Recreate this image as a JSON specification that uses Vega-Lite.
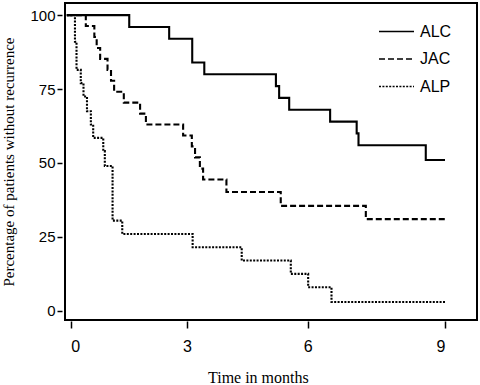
{
  "$schema": "https://vega.github.io/schema/vega-lite/v6.json",
  "width": 412,
  "height": 317,
  "autosize": "none",
  "padding": {"left": 65, "top": 3, "right": 3, "bottom": 65},
  "background": "white",
  "config": {
    "view": {"stroke": "black", "strokeWidth": 2},
    "axis": {"grid": false, "domain": false, "tickColor": "black", "tickWidth": 1.5, "labelColor": "black", "titleColor": "black", "titleFontWeight": "normal"}
  },
  "data": {
    "values": [
      {"series": "ALC", "t": -0.1, "v": 100},
      {"series": "ALC", "t": 1.51, "v": 96},
      {"series": "ALC", "t": 2.54, "v": 92},
      {"series": "ALC", "t": 3.13, "v": 84},
      {"series": "ALC", "t": 3.43, "v": 80},
      {"series": "ALC", "t": 5.21, "v": 76},
      {"series": "ALC", "t": 5.29, "v": 72},
      {"series": "ALC", "t": 5.54, "v": 68},
      {"series": "ALC", "t": 6.49, "v": 64},
      {"series": "ALC", "t": 7.07, "v": 60},
      {"series": "ALC", "t": 7.11, "v": 56},
      {"series": "ALC", "t": 8.58, "v": 51},
      {"series": "ALC", "t": 9, "v": 51},
      {"series": "JAC", "t": -0.1, "v": 100},
      {"series": "JAC", "t": 0.39, "v": 96.3},
      {"series": "JAC", "t": 0.61, "v": 92.6},
      {"series": "JAC", "t": 0.67, "v": 88.9},
      {"series": "JAC", "t": 0.76, "v": 85.2},
      {"series": "JAC", "t": 0.95, "v": 81.5},
      {"series": "JAC", "t": 1.04, "v": 77.8},
      {"series": "JAC", "t": 1.12, "v": 74.1},
      {"series": "JAC", "t": 1.37, "v": 70.4},
      {"series": "JAC", "t": 1.79, "v": 66.7},
      {"series": "JAC", "t": 1.94, "v": 63.0},
      {"series": "JAC", "t": 2.90, "v": 59.3},
      {"series": "JAC", "t": 3.12, "v": 55.6},
      {"series": "JAC", "t": 3.20, "v": 51.9},
      {"series": "JAC", "t": 3.32, "v": 48.1},
      {"series": "JAC", "t": 3.40, "v": 44.4},
      {"series": "JAC", "t": 3.98, "v": 40.2},
      {"series": "JAC", "t": 5.33, "v": 35.5},
      {"series": "JAC", "t": 7.27, "v": 31},
      {"series": "JAC", "t": 9, "v": 31},
      {"series": "ALP", "t": -0.1, "v": 100},
      {"series": "ALP", "t": 0.11, "v": 91},
      {"series": "ALP", "t": 0.15, "v": 81.5},
      {"series": "ALP", "t": 0.26, "v": 77},
      {"series": "ALP", "t": 0.33, "v": 72.5},
      {"series": "ALP", "t": 0.42, "v": 67.5},
      {"series": "ALP", "t": 0.52, "v": 63},
      {"series": "ALP", "t": 0.58, "v": 58.5},
      {"series": "ALP", "t": 0.84, "v": 54},
      {"series": "ALP", "t": 0.88, "v": 49},
      {"series": "ALP", "t": 1.08, "v": 30.5},
      {"series": "ALP", "t": 1.33, "v": 26},
      {"series": "ALP", "t": 3.14, "v": 21.5},
      {"series": "ALP", "t": 4.36, "v": 17},
      {"series": "ALP", "t": 5.58, "v": 12.5},
      {"series": "ALP", "t": 6.01, "v": 8},
      {"series": "ALP", "t": 6.52, "v": 3},
      {"series": "ALP", "t": 9, "v": 3}
    ]
  },
  "mark": {"type": "line", "interpolate": "step-after", "color": "black", "strokeWidth": 2.1, "strokeCap": "butt"},
  "encoding": {
    "x": {
      "field": "t", "type": "quantitative",
      "scale": {"domain": [0, 3, 6, 9], "range": [5.7, 122, 242.7, 380], "nice": false, "zero": false},
      "axis": {"values": [0, 3, 6, 9], "tickSize": 7, "offset": 1, "labelFont": "Liberation Sans", "labelFontSize": 16, "labelPadding": 10, "title": "Time in months", "titleFont": "Liberation Serif", "titleFontSize": 16, "titlePadding": 15}
    },
    "y": {
      "field": "v", "type": "quantitative",
      "scale": {"domain": [-3.1, 104.1], "nice": false, "zero": false},
      "axis": {"values": [0, 25, 50, 75, 100], "tickSize": 5, "offset": 3, "labelFont": "Liberation Sans", "labelFontSize": 15, "labelPadding": 2, "title": "Percentage of patients without recurrence", "titleFont": "Liberation Serif", "titleFontSize": 15, "titlePadding": 13}
    },
    "strokeDash": {
      "field": "series", "type": "nominal",
      "scale": {"domain": ["ALC", "JAC", "ALP"], "range": [[1, 0], [6, 3], [2, 1.4]]},
      "legend": {"title": null, "orient": "none", "legendX": 313, "legendY": 10, "symbolType": "stroke", "symbolSize": 1225, "symbolStrokeColor": "black", "symbolStrokeWidth": 1.5, "labelFont": "Liberation Sans", "labelFontSize": 16, "labelColor": "black", "labelOffset": 5, "rowPadding": 0.5}
    }
  }
}
